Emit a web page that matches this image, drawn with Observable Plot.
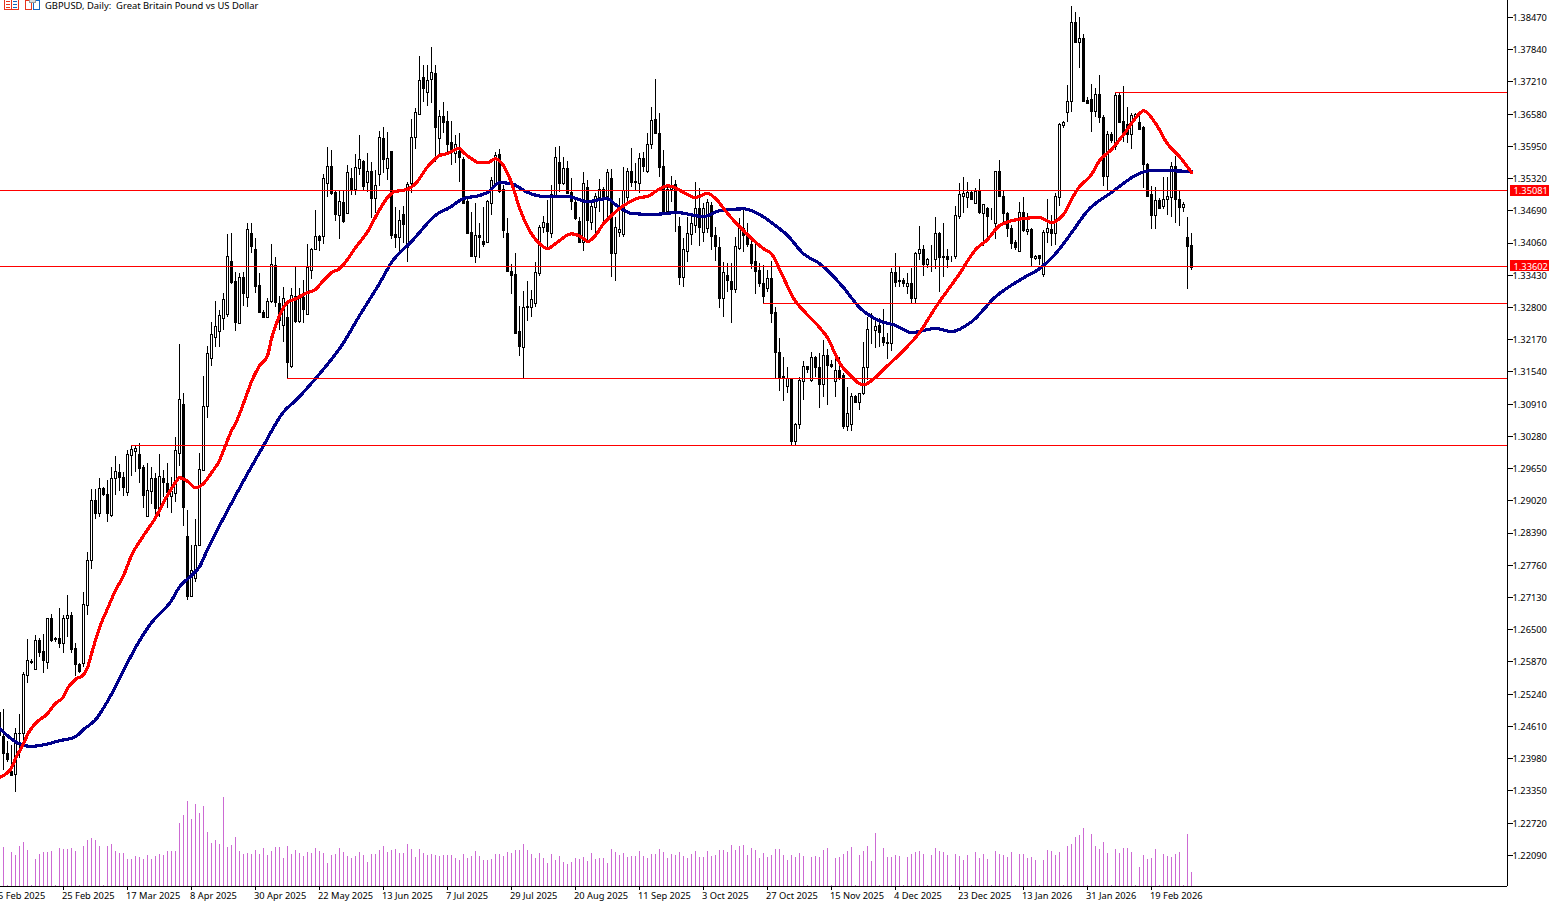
<!DOCTYPE html>
<html><head><meta charset="utf-8">
<style>html,body{margin:0;padding:0;background:#fff;overflow:hidden}#wrap{position:relative;width:1556px;height:902px}
#head{position:absolute;left:0;top:0;height:14px;width:400px}#head svg{position:absolute;left:0;top:0}
#head span{position:absolute;left:45px;top:0;font:9.4px/12px "Noto Sans",sans-serif;color:#000;white-space:pre}
svg.plot{display:block}</style>
<script src="https://cdn.jsdelivr.net/npm/d3@7"></script>
<script src="https://cdn.jsdelivr.net/npm/@observablehq/plot@0.6"></script>
</head><body><div id="wrap"><div id="chart"></div><div id="head"><svg width="42" height="11" shape-rendering="crispEdges"><g fill="none" stroke-width="1"><rect x="4.5" y="-2.5" width="14" height="12" stroke="#e8341c" fill="#fff"/><path d="M11.5 -2V9" stroke="#e8341c"/><path d="M6 1.5h4M6 4.5h4M6 7.5h4" stroke="#e8341c"/><path d="M13 1.5h4M13 4.5h4M13 7.5h4" stroke="#1565c0"/><rect x="25.5" y="0.5" width="6" height="9" stroke="#e8341c" fill="#fff"/><rect x="33.5" y="0.5" width="6" height="9" stroke="#1565c0" fill="#fff"/><rect x="29.5" y="-3" width="6" height="5" stroke="#999" fill="#ddd"/></g></svg><span>GBPUSD, Daily:  Great Britain Pound vs US Dollar</span></div></div>
<script>
const firstBar = -1;
// Daily bars, prices in pips (1/10000)
const opens = [12488,12441,12408,12371,12367,12446,12447,12560,12586,12572,12629,12607,12586,12672,12630,12631,12623,12672,12676,12613,12582,12584,12697,12785,12901,12877,12926,12914,12873,12944,12957,12947,12918,12990,12998,12992,12967,12871,12920,12944,12887,12945,12934,12910,12916,12994,13090,12832,12715,12750,12813,12961,13086,13180,13221,13233,13258,13266,13368,13329,13247,13338,13299,13424,13393,13323,13270,13260,13290,13362,13286,13243,13260,13164,13301,13252,13299,13266,13352,13393,13417,13417,13522,13555,13503,13458,13485,13462,13532,13510,13550,13565,13524,13544,13493,13540,13610,13550,13585,13421,13415,13460,13397,13522,13612,13657,13728,13700,13724,13737,13610,13653,13643,13602,13581,13585,13569,13487,13426,13378,13419,13409,13407,13483,13522,13579,13509,13424,13350,13344,13233,13200,13280,13280,13286,13346,13436,13444,13424,13495,13563,13522,13550,13503,13485,13448,13407,13514,13446,13475,13495,13510,13497,13532,13385,13426,13421,13495,13544,13524,13522,13571,13544,13597,13647,13620,13554,13466,13509,13520,13438,13338,13389,13421,13440,13473,13426,13434,13479,13419,13397,13297,13342,13329,13315,13395,13434,13419,13403,13368,13352,13325,13317,13335,13270,13192,13145,13125,13139,13018,13051,13135,13164,13137,13182,13162,13129,13186,13168,13135,13155,13147,13047,13051,13106,13094,13110,13161,13237,13235,13243,13221,13211,13209,13348,13329,13331,13321,13325,13297,13385,13393,13364,13374,13372,13424,13378,13378,13374,13378,13456,13497,13495,13503,13483,13505,13462,13473,13456,13444,13544,13497,13462,13434,13407,13389,13464,13428,13432,13374,13380,13344,13426,13432,13424,13495,13634,13661,13681,13837,13798,13804,13683,13686,13663,13696,13651,13536,13618,13593,13694,13643,13636,13618,13651,13640,13630,13559,13499,13458,13489,13477,13491,13495,13554,13491,13475,13415,13401];
const closes = [12443,12408,12396,12365,12447,12447,12562,12588,12587,12629,12605,12588,12672,12629,12631,12623,12672,12676,12611,12582,12568,12699,12785,12901,12877,12926,12914,12877,12944,12959,12947,12928,12992,13002,13004,12965,12912,12922,12944,12887,12949,12936,12918,12920,13000,13100,12889,12715,12764,12813,12963,13086,13190,13227,13241,13264,13295,13378,13327,13249,13338,13307,13432,13399,13321,13270,13260,13290,13364,13288,13254,13297,13172,13303,13252,13299,13276,13358,13393,13417,13411,13532,13555,13501,13460,13487,13448,13542,13510,13552,13569,13516,13544,13493,13518,13612,13569,13571,13419,13415,13450,13442,13520,13612,13661,13722,13708,13722,13739,13630,13653,13640,13597,13585,13598,13573,13483,13424,13378,13419,13415,13403,13487,13528,13577,13505,13430,13350,13342,13229,13202,13280,13281,13294,13348,13436,13446,13428,13499,13573,13522,13550,13501,13487,13454,13407,13522,13450,13477,13497,13510,13497,13542,13385,13436,13432,13507,13544,13524,13526,13571,13554,13598,13645,13620,13552,13466,13510,13514,13464,13338,13393,13423,13444,13473,13436,13473,13485,13417,13399,13297,13348,13331,13315,13399,13434,13419,13403,13366,13350,13325,13301,13335,13268,13192,13143,13143,13141,13018,13051,13137,13164,13157,13182,13162,13129,13186,13166,13164,13155,13143,13047,13071,13106,13094,13110,13162,13237,13237,13241,13231,13211,13209,13348,13327,13331,13325,13325,13297,13385,13393,13364,13372,13374,13424,13376,13377,13372,13374,13458,13499,13501,13503,13491,13505,13464,13481,13456,13456,13544,13497,13462,13434,13405,13397,13464,13430,13432,13376,13378,13374,13426,13434,13424,13497,13636,13640,13681,13837,13798,13804,13681,13677,13663,13696,13651,13536,13618,13606,13694,13641,13620,13618,13655,13656,13628,13559,13497,13458,13489,13473,13491,13497,13554,13491,13475,13481,13399,13358];
const highs = [12504,12494,12431,12424,12457,12484,12566,12631,12592,12639,12633,12641,12672,12680,12635,12691,12678,12717,12684,12623,12584,12723,12801,12924,12924,12945,12928,12942,12967,12989,12973,12957,13000,13010,13010,13014,12971,12975,12967,12955,12992,12961,12975,12947,13026,13207,13112,12883,12815,12865,12994,13145,13204,13250,13292,13274,13307,13423,13424,13348,13346,13348,13444,13444,13415,13346,13274,13297,13403,13378,13301,13319,13294,13317,13358,13317,13333,13403,13395,13469,13421,13540,13593,13587,13509,13507,13509,13557,13552,13579,13616,13567,13581,13563,13548,13624,13632,13622,13585,13475,13469,13477,13524,13647,13669,13771,13753,13753,13788,13753,13665,13681,13663,13643,13616,13620,13573,13495,13466,13483,13444,13475,13489,13534,13583,13589,13518,13454,13364,13385,13282,13311,13331,13313,13368,13440,13458,13489,13518,13593,13595,13573,13565,13532,13493,13456,13544,13528,13485,13503,13530,13514,13550,13550,13456,13493,13554,13552,13591,13561,13581,13583,13620,13671,13726,13659,13587,13514,13536,13528,13456,13415,13456,13464,13524,13512,13483,13491,13485,13436,13417,13368,13366,13366,13417,13454,13471,13444,13417,13405,13366,13362,13352,13370,13280,13219,13182,13163,13141,13053,13143,13174,13164,13192,13184,13190,13215,13198,13176,13190,13182,13151,13123,13112,13108,13112,13211,13260,13268,13258,13258,13276,13229,13356,13385,13360,13337,13346,13356,13387,13438,13401,13376,13401,13456,13426,13444,13393,13380,13477,13522,13534,13524,13507,13512,13530,13481,13475,13473,13546,13567,13509,13466,13440,13411,13485,13495,13464,13434,13381,13381,13430,13491,13460,13503,13640,13643,13714,13868,13857,13847,13814,13690,13716,13708,13733,13655,13624,13622,13698,13698,13712,13671,13659,13659,13655,13634,13561,13516,13514,13493,13534,13534,13563,13575,13509,13485,13456,13424];
const lows = [12439,12375,12390,12363,12332,12398,12433,12545,12582,12570,12596,12564,12572,12625,12625,12613,12603,12635,12603,12558,12564,12576,12678,12768,12865,12869,12910,12860,12869,12912,12920,12910,12910,12949,12957,12936,12887,12871,12895,12871,12869,12908,12887,12877,12899,12969,12852,12707,12713,12742,12813,12961,13063,13164,13202,13202,13235,13260,13325,13233,13247,13282,13280,13385,13307,13268,13258,13260,13288,13280,13235,13211,13141,13161,13249,13249,13249,13264,13335,13393,13389,13403,13495,13499,13448,13413,13444,13462,13499,13499,13538,13507,13505,13454,13464,13516,13542,13528,13413,13395,13387,13405,13368,13503,13589,13655,13681,13673,13679,13563,13573,13620,13581,13557,13561,13524,13481,13423,13378,13366,13376,13397,13405,13460,13518,13503,13415,13350,13305,13227,13184,13141,13252,13260,13280,13340,13424,13397,13415,13493,13505,13518,13501,13469,13450,13405,13389,13411,13430,13424,13466,13446,13446,13338,13331,13417,13417,13485,13514,13509,13503,13544,13542,13589,13618,13534,13464,13464,13485,13426,13323,13319,13368,13401,13424,13399,13407,13424,13391,13370,13278,13260,13309,13249,13307,13391,13387,13397,13354,13305,13319,13288,13309,13249,13141,13116,13096,13112,13010,13008,13041,13098,13151,13133,13143,13082,13104,13088,13161,13104,13137,13041,13037,13037,13092,13078,13108,13137,13207,13200,13202,13204,13178,13194,13319,13319,13319,13305,13288,13288,13372,13340,13356,13348,13354,13309,13338,13356,13368,13374,13452,13464,13473,13489,13483,13462,13399,13417,13450,13413,13495,13440,13417,13393,13391,13389,13426,13421,13360,13372,13362,13338,13405,13399,13401,13477,13630,13641,13661,13796,13747,13681,13677,13622,13651,13640,13516,13509,13600,13587,13640,13602,13600,13589,13645,13626,13512,13495,13432,13432,13471,13471,13460,13456,13444,13438,13466,13315,13352];
// Tick volume, in hundreds of ticks
const volumes = [30,39,1,34,31,40,44,36,1,27,32,34,34,35,1,38,37,37,38,35,1,40,46,48,46,40,1,40,42,35,33,33,27,27,30,29,27,31,27,30,32,31,35,35,35,63,71,85,67,82,73,80,54,43,46,42,89,39,41,49,35,32,33,32,36,32,38,31,35,39,39,28,40,32,36,33,30,34,33,38,35,33,23,31,32,38,34,30,28,30,34,31,24,32,32,36,40,34,36,37,33,33,42,37,29,37,33,31,32,31,30,31,31,31,28,26,32,28,30,35,30,26,26,27,32,32,30,34,33,36,36,42,36,32,28,33,28,23,32,26,30,24,22,24,28,27,29,25,33,27,28,28,23,37,34,31,33,29,30,30,35,30,28,32,32,37,34,28,32,31,34,30,28,32,35,29,29,35,30,31,36,36,34,41,36,40,41,31,38,36,28,33,29,31,37,37,31,26,31,29,33,30,1,29,30,29,36,38,1,28,29,32,35,39,1,31,35,40,25,53,1,38,29,29,31,30,1,29,32,34,35,32,1,31,38,35,34,31,1,32,30,26,31,1,34,28,32,27,1,35,32,31,29,34,1,32,32,28,29,26,1,26,36,35,31,34,1,40,42,49,51,58,1,52,40,37,44,33,1,37,33,38,38,34,1,19,31,27,28,37,1,32,30,29,32,34,1,52,14];
// Moving averages: bar index and value (pips)
const fastBars = [-1,2,3,5,6,8,11,13,15,16,18,20,21,22,24,26,28,30,32,35,38,40,42,43,44,45,46,48,49,50,52,54,55,57,58,61,62,64,66,67,69,71,73,76,78,80,82,84,86,88,91,94,96,98,100,103,106,109,111,114,115,117,119,121,123,125,127,129,132,134,136,138,142,145,146,148,150,152,155,159,161,164,166,168,170,173,176,178,181,184,187,190,192,195,198,200,204,206,209,212,214,215,217,220,225,229,233,239,243,246,249,255,259,262,264,265,268,269,272,274,277,280,284,285,288,291,294,297];
const fastValues = [12361,12380,12398,12427,12445,12467,12486,12506,12519,12535,12553,12562,12576,12603,12654,12691,12727,12756,12795,12834,12869,12899,12926,12938,12947,12945,12940,12928,12930,12936,12957,12981,13000,13039,13053,13114,13135,13166,13186,13219,13264,13290,13297,13309,13315,13333,13348,13356,13374,13397,13428,13471,13495,13507,13509,13522,13555,13577,13581,13591,13583,13571,13563,13563,13571,13557,13524,13475,13424,13405,13395,13405,13424,13415,13409,13421,13444,13460,13479,13495,13497,13512,13518,13514,13505,13495,13503,13493,13464,13438,13415,13395,13385,13338,13292,13274,13241,13221,13172,13145,13131,13129,13137,13159,13196,13231,13280,13346,13393,13413,13440,13454,13456,13446,13454,13462,13505,13516,13540,13567,13589,13618,13659,13665,13640,13600,13575,13544];
const slowBars = [-1,1,3,7,10,14,18,20,23,26,30,33,37,42,44,47,49,51,56,61,65,70,73,78,85,89,94,97,102,109,111,115,119,121,124,127,131,135,141,146,151,153,157,162,166,168,175,179,185,188,191,193,196,200,204,210,214,219,223,227,233,237,242,248,255,259,263,267,271,277,284,287,297];
const slowValues = [12457,12443,12431,12422,12425,12433,12441,12455,12474,12510,12570,12615,12664,12707,12734,12756,12773,12807,12883,12955,13010,13076,13098,13141,13211,13264,13327,13368,13409,13466,13473,13493,13499,13505,13524,13522,13505,13497,13497,13487,13493,13481,13464,13462,13464,13466,13458,13469,13473,13466,13452,13440,13421,13385,13366,13319,13280,13254,13245,13231,13239,13233,13252,13301,13338,13356,13385,13426,13469,13505,13542,13548,13546];
// Horizontal levels
const levelPrices = [1.35081,1.33602,1.3700,1.3288,1.3141,1.3010];
const levelStarts = [-0.75,-0.75,278,190,71,32];
const labelledPrices = [1.35081,1.33602];
// Axis ticks
const dateBars = [-1,15,31,47,63,79,95,111,127,143,159,175,191,207,223,239,255,271,287];
const dateLabels = ["5 Feb 2025","25 Feb 2025","17 Mar 2025","8 Apr 2025","30 Apr 2025","22 May 2025","13 Jun 2025","7 Jul 2025","29 Jul 2025","20 Aug 2025","11 Sep 2025","3 Oct 2025","27 Oct 2025","15 Nov 2025","4 Dec 2025","23 Dec 2025","13 Jan 2026","31 Jan 2026","19 Feb 2026"];
const priceTicks = [1.2209,1.2272,1.2335,1.2398,1.2461,1.2524,1.2587,1.2650,1.2713,1.2776,1.2839,1.2902,1.2965,1.3028,1.3091,1.3154,1.3217,1.3280,1.3343,1.3406,1.3469,1.3532,1.3595,1.3658,1.3721,1.3784,1.3847];

const floorPrice = 1.21481, topPrice = 1.38802, rightBar = 376;
const priceUnit = (topPrice - floorPrice) / 886; // price per pixel row of the scale, volumes share the pane
const candles = opens.map((o,k)=>({bar:k+firstBar,open:o/1e4,close:closes[k]/1e4,high:highs[k]/1e4,low:lows[k]/1e4,volume:volumes[k]}));
const bulls = candles.filter(d=>d.close>=d.open), bears = candles.filter(d=>d.close<d.open);
const fast = fastBars.map((b,k)=>({bar:b,value:fastValues[k]/1e4}));
const slow = slowBars.map((b,k)=>({bar:b,value:slowValues[k]/1e4}));
const levels = levelPrices.map((p,k)=>({price:p,start:levelStarts[k]}));
const FONT = '"Noto Sans",sans-serif';
const crisp = {shapeRendering:"crispEdges"};
const body = {x1:d=>d.bar-0.25,x2:d=>d.bar+0.25,y1:"open",y2:"close",stroke:"#000",strokeWidth:1,...crisp};

const chart = Plot.plot({
  width:1556,height:902,marginLeft:0,marginRight:49,marginTop:0,marginBottom:16,
  style:{background:"#fff",fontFamily:FONT,fontSize:"9.3px",color:"#000"},
  x:{type:"linear",domain:[-0.75,rightBar],range:[0,1507],axis:null},
  y:{type:"linear",domain:[floorPrice,topPrice],range:[886,0],axis:null},
  marks:[
    Plot.ruleX(candles,{x:"bar",y1:floorPrice,y2:d=>floorPrice+d.volume*priceUnit,stroke:"#cc6ad3",strokeWidth:1,...crisp}),
    Plot.ruleX(candles,{x:"bar",y1:"low",y2:"high",stroke:"#000",strokeWidth:1,...crisp}),
    Plot.rect(bulls,{...body,fill:"#fff"}),
    Plot.rect(bears,{...body,fill:"#000"}),
    Plot.line(slow,{x:"bar",y:"value",stroke:"#00008b",strokeWidth:3.2,curve:"monotone-x",...crisp}),
    Plot.line(fast,{x:"bar",y:"value",stroke:"#ff0000",strokeWidth:3.2,curve:"monotone-x",...crisp}),
    Plot.ruleY(levels,{y:"price",x1:"start",x2:rightBar,stroke:"#ff0000",strokeWidth:1,...crisp}),
    Plot.ruleY([floorPrice],{stroke:"#000",strokeWidth:1,...crisp}),
    Plot.ruleX([rightBar],{y1:floorPrice,y2:topPrice,stroke:"#000",strokeWidth:1,...crisp}),
    Plot.axisX({ticks:dateBars,tickFormat:()=>"",tickSize:4,label:null,...crisp}),
    Plot.axisX({ticks:dateBars,tickFormat:d=>dateLabels[dateBars.indexOf(d)],tickSize:0,tickPadding:6,dx:-1.5,label:null,textAnchor:"start",fontSize:9.3}),
    Plot.axisY({anchor:"right",ticks:priceTicks,tickFormat:()=>"",tickSize:5,label:null,...crisp}),
    Plot.axisY({anchor:"right",ticks:priceTicks,tickFormat:d=>d.toFixed(5),tickSize:0,tickPadding:5,dy:0.4,label:null,fontSize:9.3}),
    Plot.rect(labelledPrices,{x1:rightBar+0.75,x2:rightBar+10.5,y1:d=>d-5.5*priceUnit,y2:d=>d+5.5*priceUnit,fill:"#ff0000",...crisp}),
    Plot.text(labelledPrices,{x:rightBar+1.5,y:d=>d,dy:0.4,text:d=>d.toFixed(5),fill:"#fff",textAnchor:"start",fontSize:9.3})
  ]
});
document.getElementById("chart").appendChild(chart);
</script></body></html>
